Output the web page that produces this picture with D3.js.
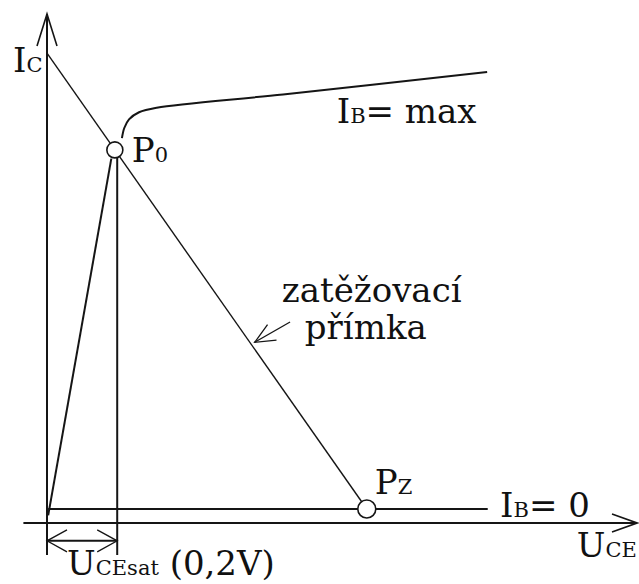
<!DOCTYPE html>
<html>
<head>
<meta charset="utf-8">
<script src="https://cdn.jsdelivr.net/npm/d3@7"></script>
<style>
  html, body { margin: 0; padding: 0; background: #fff; }
  svg { display: block; }
  text { font-family: "DejaVu Serif", serif; fill: #111; }
</style>
</head>
<body>
<svg id="chart" width="639" height="584"></svg>
<script>
// ---- data (schematic units: UCE and IC both 0..100) ----
const axisX = [-4, 100];          // UCE axis extent
const axisY = [-6.3, 100];        // IC axis extent
const loadLine = [[0, 92.3], [54.2, 2.75]];      // zatěžovací přímka: from IC axis to Pz
const P0 = [11.5, 73.3];
const PZ = [54.2, 2.75];
const ibZero = [[0.2, 2.75], [74.7, 2.75]];      // IB = 0 characteristic
const ramp = [[0.2, 1.5], [10.9, 71.6]];         // saturation ramp to P0
const satX = 11.9;                                // UCEsat vertical line
const ibMax = [[12.7, 75.6], [13.1, 77.6], [13.9, 79.3], [15.6, 80.7], [18.6, 81.6], [40, 84.2], [74.6, 88.6]];
const pointerArrow = [[41.2, 39.5], [35.2, 35.5]]; // tail, tip (toward load line)
const dimY = -3.5;                                // UCEsat dimension line
const labels = {
  ic: ["I", "C"], p0: ["P", "0"], pz: ["P", "Z"],
  ibMax: ["I", "B", "= max"], ibZero: ["I", "B", "= 0"],
  uce: ["U", "CE"], ucesat: ["U", "CEsat", " (0,2V)"],
  load: ["zatěžovací", "přímka"]
};

// ---- scales ----
const x = d3.scaleLinear().domain([0, 100]).range([47, 637]);
const y = d3.scaleLinear().domain([0, 100]).range([523, 14]);

const svg = d3.select("#chart");
svg.append("rect").attr("width", 639).attr("height", 584).attr("fill", "#fff");

const ink = "#151515";
const line = d3.line().x(d => x(d[0])).y(d => y(d[1]));

function seg(pts, w) {
  svg.append("path").attr("d", line(pts)).attr("fill", "none")
    .attr("stroke", ink).attr("stroke-width", w);
}
function arrowHead(tip, from, len, half, w) {
  const dx = from[0] - tip[0], dy = from[1] - tip[1];
  const L = Math.hypot(dx, dy), ux = dx / L, uy = dy / L;
  const px = -uy, py = ux;
  const a = [tip[0] + ux * len + px * half, tip[1] + uy * len + py * half];
  const b = [tip[0] + ux * len - px * half, tip[1] + uy * len - py * half];
  svg.append("path").attr("d", `M${a[0]},${a[1]}L${tip[0]},${tip[1]}L${b[0]},${b[1]}`)
    .attr("fill", "none").attr("stroke", ink).attr("stroke-width", w);
}

// axes
seg([[0, axisY[0]], [0, axisY[1]]], 2);
seg([[axisX[0], 0], [axisX[1], 0]], 2);
arrowHead([x(0), y(axisY[1])], [x(0), y(0)], 32, 10, 1.6);
arrowHead([x(axisX[1]), y(0)], [x(0), y(0)], 25, 9, 1.6);

// IB = 0
seg(ibZero, 2);
// ramp
seg(ramp, 2);
// UCEsat vertical
seg([[satX, P0[1] - 1.6], [satX, axisY[0]]], 2);
// load line
seg(loadLine, 1.4);
// IB = max curve
svg.append("path").attr("d", d3.line().x(d => x(d[0])).y(d => y(d[1])).curve(d3.curveCatmullRom)(ibMax))
  .attr("fill", "none").attr("stroke", ink).attr("stroke-width", 2);

// points
svg.append("circle").attr("cx", x(P0[0])).attr("cy", y(P0[1])).attr("r", 8)
  .attr("fill", "#fff").attr("stroke", ink).attr("stroke-width", 1.6);
svg.append("circle").attr("cx", x(PZ[0])).attr("cy", y(PZ[1])).attr("r", 9)
  .attr("fill", "#fff").attr("stroke", ink).attr("stroke-width", 1.6);

// pointer arrow to load line
const tail = [x(pointerArrow[0][0]), y(pointerArrow[0][1])];
const tip = [x(pointerArrow[1][0]), y(pointerArrow[1][1])];
seg(pointerArrow, 1.3);
arrowHead(tip, tail, 20, 9, 1.3);

// UCEsat dimension
seg([[0, dimY], [satX, dimY]], 2);
arrowHead([x(0), y(dimY)], [x(satX), y(dimY)], 20, 11, 1.3);
arrowHead([x(satX), y(dimY)], [x(0), y(dimY)], 20, 11, 1.3);

// labels
function label(parts, px, py, sizes) {
  const t = svg.append("text").attr("x", px).attr("y", py);
  parts.forEach((p, i) => {
    t.append("tspan").attr("font-size", sizes[i]).text(p);
  });
  return t;
}
const big = 34, sub = 21;
label(labels.ic, x(0) - 34, y(88.6), [big, sub]);
label(labels.p0, x(P0[0]) + 17, y(P0[1]) + 12, [big, sub]);
label(labels.pz, x(PZ[0]) + 8, y(PZ[1]) - 15, [big, sub]);
label(labels.ibMax, x(49.1), y(78.5), [big, sub, big]);
label(labels.ibZero, x(76.8), y(1.2), [big, sub, big]);
label(labels.uce, x(89.8), y(-6.7), [big, sub]);
label(labels.ucesat, x(3.4), y(-10.3), [big, sub, big]);
label([labels.load[0]], x(39.8), y(43.5), [big]);
label([labels.load[1]], x(43.7), y(36.1), [big]);
</script>
</body>
</html>
